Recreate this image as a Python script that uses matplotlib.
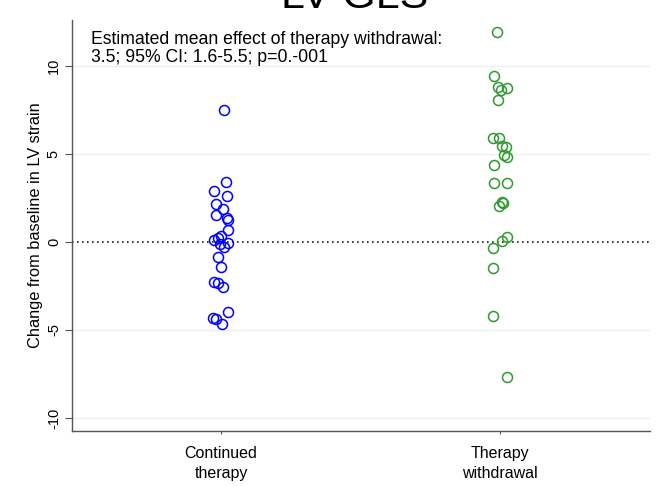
import matplotlib
matplotlib.use("Agg")
import matplotlib.pyplot as plt
import numpy as np

plt.rcParams['font.family'] = ['Liberation Sans', 'DejaVu Sans']

# categories
groups = ["Continued\ntherapy", "Therapy\nwithdrawal"]

# change from baseline in LV strain
continued_y = [7.5, 3.43, 2.9, 2.61, 2.16, 1.9, 1.55, 1.35, 1.23, 0.68, 0.34, 0.13, 0.25,
               -0.04, -0.11, -0.27, -0.83, -1.44, -2.27, -2.31, -2.54, -3.99, -4.30, -4.39, -4.68]
continued_jitter = [0.012, 0.018, -0.025, 0.023, -0.019, 0.008, -0.019, 0.020, 0.024, 0.026, -0.001,
                    -0.025, -0.010, 0.026, -0.004, 0.012, -0.010, -0.001, -0.025, -0.010, 0.006,
                    0.026, -0.028, -0.019, 0.003]

withdrawal_y = [11.95, 9.43, 8.79, 8.77, 8.64, 8.07, 5.89, 5.89, 5.47, 5.38, 4.94, 4.81, 4.36,
                3.37, 3.33, 2.29, 2.23, 2.06, 0.27, 0.08, -0.36, -1.46, -4.19, -7.65]
withdrawal_jitter = [-0.010, -0.022, -0.006, 0.024, 0.004, -0.008, -0.026, -0.003, 0.008, 0.020,
                     0.015, 0.024, -0.022, -0.020, 0.024, 0.008, 0.012, -0.004, 0.026, 0.008,
                     -0.026, -0.026, -0.026, 0.026]

yticks = [-10, -5, 0, 5, 10]

fig = plt.figure(figsize=(6.56, 4.86), dpi=100)
ax = fig.add_axes([0.1098, 0.1132, 0.8811, 0.8456])

# faint grid lines, dotted zero line
for t in yticks:
    if t == 0:
        ax.axhline(0, color='#222222', linestyle=(0, (1, 2)), linewidth=1.2, zorder=1)
    else:
        ax.axhline(t, color='#e8f0f0', linewidth=1.0, zorder=0)

ax.plot(0 + np.array(continued_jitter), continued_y, linestyle='none', marker='o',
        markersize=7.2, markerfacecolor='none', markeredgecolor='#0000ff', markeredgewidth=1.1, zorder=3)
ax.plot(1 + np.array(withdrawal_jitter), withdrawal_y, linestyle='none', marker='o',
        markersize=7.2, markerfacecolor='none', markeredgecolor='#2e9a2e', markeredgewidth=1.1, zorder=3)

ax.set_xlim(-0.534, 1.538)
ax.set_ylim(-10.74, 12.61)
ax.set_xticks([0, 1])
ax.set_xticklabels(groups, fontsize=11.5, linespacing=1.4)
ax.set_yticks(yticks)
ax.set_yticklabels([str(t) for t in yticks], fontsize=10.5, rotation=90, va='center')
ax.tick_params(axis='y', length=5, width=0.8, color='#555555', pad=3)
ax.tick_params(axis='x', length=2, width=0.8, color='#555555', pad=9)

for side in ['top', 'right']:
    ax.spines[side].set_visible(False)
for side in ['left', 'bottom']:
    ax.spines[side].set_color('#555555')
    ax.spines[side].set_linewidth(1.0)

ax.set_ylabel("Change from baseline in LV strain", fontsize=11.8, labelpad=3)

ax.text(0.033, 0.974, "Estimated mean effect of therapy withdrawal:\n3.5; 95% CI: 1.6-5.5; p=0.-001",
        transform=ax.transAxes, fontsize=12.7, va='top', ha='left', linespacing=1.12)

# title clipped at the top edge, as in the original
fig.text(0.541, 1 - 8 / 486, "LV GLS", fontsize=31, ha='center', va='baseline')

fig.savefig("out.png", dpi=100)
